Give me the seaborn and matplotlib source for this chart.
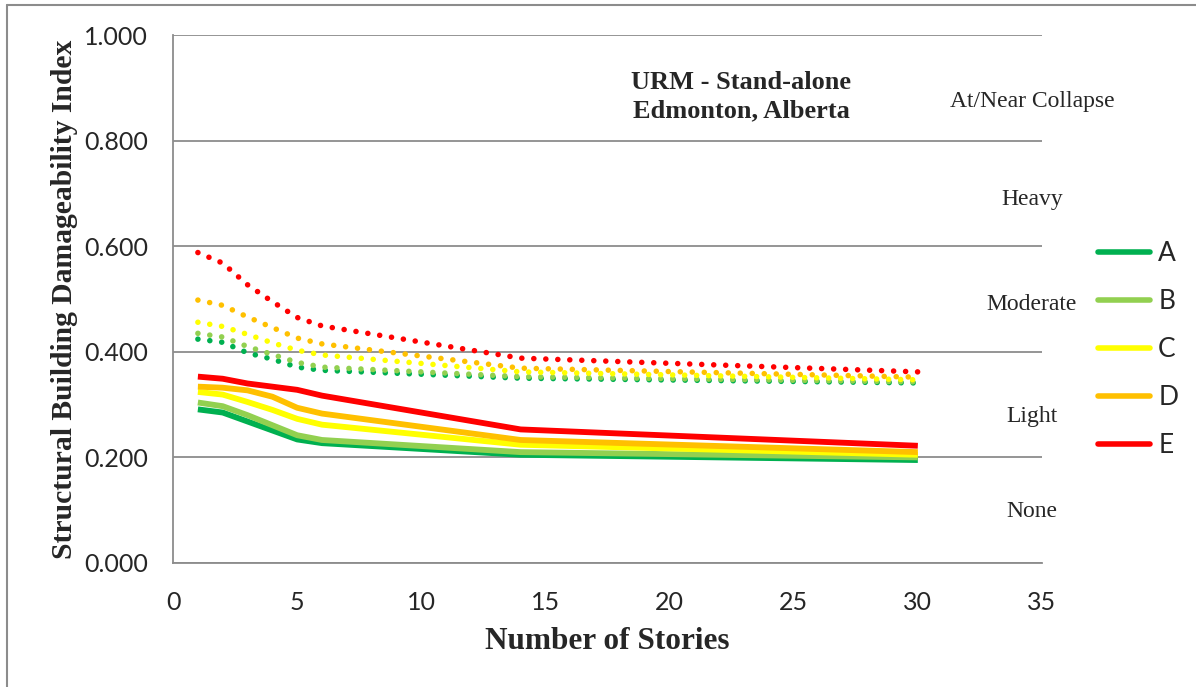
import pandas as pd
import matplotlib
matplotlib.use("Agg")
import matplotlib.pyplot as plt
from matplotlib.lines import Line2D
import seaborn as sns

sns.set_theme(style="white")
plt.rcParams["font.family"] = ["Liberation Serif", "DejaVu Serif"]

# data
stories = [1, 2, 3, 4, 5, 6, 14, 30]
series = ["A", "B", "C", "D", "E"]

# solid lines
solid_A = [0.291, 0.285, 0.268, 0.251, 0.234, 0.227, 0.205, 0.195]
solid_B = [0.304, 0.297, 0.280, 0.261, 0.242, 0.233, 0.210, 0.200]
solid_C = [0.324, 0.319, 0.305, 0.290, 0.273, 0.262, 0.224, 0.205]
solid_D = [0.334, 0.332, 0.327, 0.315, 0.294, 0.283, 0.233, 0.210]
solid_E = [0.353, 0.349, 0.340, 0.334, 0.328, 0.317, 0.253, 0.222]

# dotted lines
dotted_A = [0.424, 0.418, 0.398, 0.386, 0.371, 0.365, 0.350, 0.341]
dotted_B = [0.435, 0.428, 0.410, 0.395, 0.380, 0.371, 0.353, 0.343]
dotted_C = [0.456, 0.448, 0.433, 0.417, 0.403, 0.394, 0.362, 0.347]
dotted_D = [0.498, 0.488, 0.466, 0.446, 0.426, 0.415, 0.369, 0.352]
dotted_E = [0.588, 0.568, 0.527, 0.495, 0.465, 0.449, 0.388, 0.362]

zones = ["At/Near Collapse", "Heavy", "Moderate", "Light", "None"]
zone_y = [0.875, 0.688, 0.489, 0.277, 0.097]

colors = {"A": "#00B050", "B": "#92D050", "C": "#FFFF00", "D": "#FFC000", "E": "#FF0000"}


def long_form(cols):
    rows = []
    for name, vals in zip(series, cols):
        for s, v in zip(stories, vals):
            rows.append({"stories": s, "index": v, "type": name})
    return pd.DataFrame(rows)


solid = long_form([solid_A, solid_B, solid_C, solid_D, solid_E])
dotted = long_form([dotted_A, dotted_B, dotted_C, dotted_D, dotted_E])

fig, ax = plt.subplots(figsize=(11.96, 6.87), dpi=100)
fig.subplots_adjust(left=0.1447, right=0.8712, top=0.949, bottom=0.1805)

sns.lineplot(data=solid, x="stories", y="index", hue="type", palette=colors,
             lw=4.2, estimator=None, sort=False, ax=ax, solid_capstyle="butt")
sns.lineplot(data=dotted, x="stories", y="index", hue="type", palette=colors,
             lw=4.0, estimator=None, sort=False, ax=ax, legend=False,
             linestyle=(0, (0.01, 2.15)), dash_capstyle="round")

ax.set_xlim(0, 35)
ax.set_ylim(0, 1)
ax.set_xticks(range(0, 36, 5))
ax.set_yticks([0, 0.2, 0.4, 0.6, 0.8, 1.0])
ax.set_yticklabels([f"{v:.3f}" for v in [0, 0.2, 0.4, 0.6, 0.8, 1.0]])

grey = "#8c8c8c"
ax.yaxis.grid(True, color=grey, lw=1.3)
ax.set_axisbelow(True)
for side in ["top", "right"]:
    ax.spines[side].set_visible(False)
for side in ["left", "bottom"]:
    ax.spines[side].set_color(grey)
    ax.spines[side].set_linewidth(1.3)
ax.tick_params(axis="both", direction="out", length=7, width=1.3, color=grey,
               labelsize=18)
ax.tick_params(axis="x", pad=13)
ax.tick_params(axis="y", pad=11)
for lab in ax.get_xticklabels() + ax.get_yticklabels():
    lab.set_family(["Lato", "DejaVu Sans"])

ax.set_xlabel("Number of Stories", fontsize=22.5, fontweight="bold")
ax.set_ylabel("Structural Building Damageability Index", fontsize=21.3, fontweight="bold")
ax.xaxis.set_label_coords(0.5, -0.122)
ax.yaxis.set_label_coords(-0.109, 0.5)

ax.text(0.654, 0.883, "URM - Stand-alone\nEdmonton, Alberta", transform=ax.transAxes,
        ha="center", va="center", fontsize=19, fontweight="bold", linespacing=1.3)

for name, yv in zip(zones, zone_y):
    ax.text(34.6, yv, name, ha="center", va="center", fontsize=17, clip_on=False)

leg = ax.legend(loc="upper left", bbox_to_anchor=(1.0375, 0.655), frameon=False,
                handlelength=1.95, handletextpad=0.32, labelspacing=0.87,
                prop={"family": ["Lato", "DejaVu Sans"], "size": 19})
leg.set_title(None)
for h in leg.get_lines():
    h.set_linewidth(4)
    h.set_solid_capstyle("round")

# outer chart frame (left and top edges visible)
fig.add_artist(Line2D([7 / 1196, 7 / 1196], [0, 1 - 5 / 687], transform=fig.transFigure,
                      color=grey, lw=1.5))
fig.add_artist(Line2D([7 / 1196, 1], [1 - 5 / 687, 1 - 5 / 687], transform=fig.transFigure,
                      color=grey, lw=1.5))

fig.savefig("out.png", dpi=100, facecolor="white")
